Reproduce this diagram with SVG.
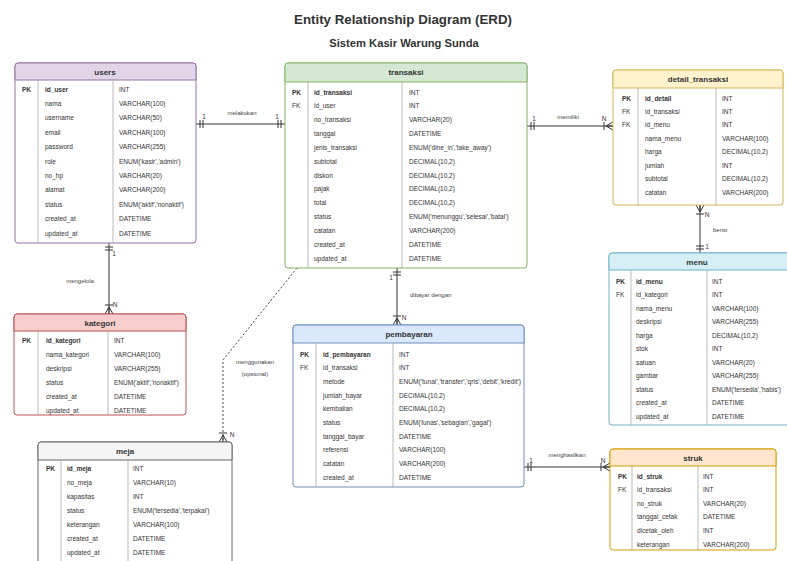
<svg xmlns="http://www.w3.org/2000/svg" width="787" height="561" viewBox="0 0 787 561">
<style>
.t{font-family:"Liberation Sans",Arial,sans-serif;font-size:6.5px;fill:#333;dominant-baseline:central}
.k{font-weight:bold}
.h{font-family:"Liberation Sans",Arial,sans-serif;font-size:8px;font-weight:bold;fill:#333;text-anchor:middle;dominant-baseline:central}
.l{font-family:"Liberation Sans",Arial,sans-serif;font-size:6px;fill:#444;dominant-baseline:central}
.c{font-family:"Liberation Sans",Arial,sans-serif;font-size:6.5px;fill:#333;dominant-baseline:central;text-anchor:middle}
.dv{stroke:#aaa;stroke-width:0.8}
.box{fill:#fff;stroke-width:1}
.conn{stroke:#333;stroke-width:1;fill:none}
.dash{stroke:#444;stroke-width:1;fill:none;stroke-dasharray:2,2}
.ttl{font-family:"Liberation Sans",Arial,sans-serif;font-weight:bold;fill:#333;text-anchor:middle}
</style>
<defs>
<marker id="many" viewBox="-11 -6 12 12" refX="0" refY="0" markerWidth="12" markerHeight="12" markerUnits="userSpaceOnUse" orient="auto-start-reverse">
<path d="M-7,0 L0,-4 M-7,0 L0,0 M-7,0 L0,4 M-9,-4 L-9,4" stroke="#333" fill="none" stroke-width="1"/>
</marker>
<marker id="one" viewBox="-11 -6 12 12" refX="0" refY="0" markerWidth="12" markerHeight="12" markerUnits="userSpaceOnUse" orient="auto-start-reverse">
<path d="M-4,-4 L-4,4 M-7,-4 L-7,4" stroke="#333" fill="none" stroke-width="1"/>
</marker>
</defs>
<rect width="787" height="561" fill="#fff"/>
<text class="ttl" x="403" y="24" font-size="13.3">Entity Relationship Diagram (ERD)</text>
<text class="ttl" x="404" y="47" font-size="11.2">Sistem Kasir Warung Sunda</text>

<g id="connectors">
<line class="conn" x1="196" y1="124" x2="285" y2="124" marker-start="url(#one)" marker-end="url(#one)"/>
<text class="c" x="204" y="116">1</text><text class="c" x="277" y="116">1</text>
<text class="l" x="242" y="113" text-anchor="middle">melakukan</text>
<line class="conn" x1="527" y1="126" x2="613" y2="126" marker-start="url(#one)" marker-end="url(#many)"/>
<text class="c" x="534" y="118">1</text><text class="c" x="604" y="118">N</text>
<text class="l" x="568" y="117" text-anchor="middle">memiliki</text>
<line class="conn" x1="700" y1="205" x2="700" y2="253" marker-start="url(#many)" marker-end="url(#one)"/>
<text class="c" x="707" y="214">N</text><text class="c" x="707" y="246">1</text>
<text class="l" x="713" y="230">berisi</text>
<line class="conn" x1="109" y1="243" x2="109" y2="314" marker-start="url(#one)" marker-end="url(#many)"/>
<text class="c" x="114" y="253">1</text><text class="c" x="115" y="304">N</text>
<text class="l" x="80" y="281" text-anchor="middle">mengelola</text>
<line class="conn" x1="397" y1="268" x2="397" y2="325" marker-start="url(#one)" marker-end="url(#many)"/>
<text class="c" x="391" y="277">1</text><text class="c" x="404" y="317">N</text>
<text class="l" x="410" y="295">dibayar dengan</text>
<path class="dash" d="M297,268 L223,360 L223,442" marker-end="url(#many)"/>
<text class="c" x="232" y="434">N</text>
<text class="l" x="255" y="362" text-anchor="middle">menggunakan</text>
<text class="l" x="255" y="374" text-anchor="middle">(opsional)</text>
<line class="conn" x1="524" y1="467" x2="610" y2="467" marker-start="url(#one)" marker-end="url(#many)"/>
<text class="c" x="531" y="460">1</text><text class="c" x="603" y="460">N</text>
<text class="l" x="567" y="455" text-anchor="middle">menghasilkan</text>
</g>

<g id="users">
<rect class="box" x="15" y="63" width="181" height="180" rx="3" stroke="#9673a6"/>
<path d="M15,80 V66 a3,3 0 0 1 3,-3 H193 a3,3 0 0 1 3,3 V80 Z" fill="#e1d5e7" stroke="#9673a6"/>
<text class="h" x="105" y="72">users</text>
<line class="dv" x1="38" y1="80" x2="38" y2="243"/><line class="dv" x1="113" y1="80" x2="113" y2="243"/>
<text class="t k" x="22" y="89">PK</text>
<text class="t k" x="45" y="89">id_user</text><text class="t" x="119" y="89">INT</text>
<text class="t" x="45" y="103.4">nama</text><text class="t" x="119" y="103.4">VARCHAR(100)</text>
<text class="t" x="45" y="117.8">username</text><text class="t" x="119" y="117.8">VARCHAR(50)</text>
<text class="t" x="45" y="132.2">email</text><text class="t" x="119" y="132.2">VARCHAR(100)</text>
<text class="t" x="45" y="146.6">password</text><text class="t" x="119" y="146.6">VARCHAR(255)</text>
<text class="t" x="45" y="161">role</text><text class="t" x="119" y="161">ENUM('kasir','admin')</text>
<text class="t" x="45" y="175.4">no_hp</text><text class="t" x="119" y="175.4">VARCHAR(20)</text>
<text class="t" x="45" y="189.8">alamat</text><text class="t" x="119" y="189.8">VARCHAR(200)</text>
<text class="t" x="45" y="204.2">status</text><text class="t" x="119" y="204.2">ENUM('aktif','nonaktif')</text>
<text class="t" x="45" y="218.6">created_at</text><text class="t" x="119" y="218.6">DATETIME</text>
<text class="t" x="45" y="233">updated_at</text><text class="t" x="119" y="233">DATETIME</text>
</g>

<g id="transaksi">
<rect class="box" x="285" y="63" width="242" height="205" rx="3" stroke="#82b366"/>
<path d="M285,82 V66 a3,3 0 0 1 3,-3 H524 a3,3 0 0 1 3,3 V82 Z" fill="#d5e8d4" stroke="#82b366"/>
<text class="h" x="406" y="72.5">transaksi</text>
<line class="dv" x1="308" y1="82" x2="308" y2="268"/><line class="dv" x1="402" y1="82" x2="402" y2="268"/>
<text class="t k" x="292" y="92">PK</text><text class="t k" x="314" y="92">id_transaksi</text><text class="t" x="409" y="92">INT</text>
<text class="t" x="292" y="105.8">FK</text><text class="t" x="314" y="105.8">id_user</text><text class="t" x="409" y="105.8">INT</text>
<text class="t" x="314" y="119.7">no_transaksi</text><text class="t" x="409" y="119.7">VARCHAR(20)</text>
<text class="t" x="314" y="133.5">tanggal</text><text class="t" x="409" y="133.5">DATETIME</text>
<text class="t" x="314" y="147.3">jenis_transaksi</text><text class="t" x="409" y="147.3">ENUM('dine_in','take_away')</text>
<text class="t" x="314" y="161.2">subtotal</text><text class="t" x="409" y="161.2">DECIMAL(10,2)</text>
<text class="t" x="314" y="175">diskon</text><text class="t" x="409" y="175">DECIMAL(10,2)</text>
<text class="t" x="314" y="188.8">pajak</text><text class="t" x="409" y="188.8">DECIMAL(10,2)</text>
<text class="t" x="314" y="202.7">total</text><text class="t" x="409" y="202.7">DECIMAL(10,2)</text>
<text class="t" x="314" y="216.5">status</text><text class="t" x="409" y="216.5">ENUM('menunggu','selesai','batal')</text>
<text class="t" x="314" y="230.3">catatan</text><text class="t" x="409" y="230.3">VARCHAR(200)</text>
<text class="t" x="314" y="244.2">created_at</text><text class="t" x="409" y="244.2">DATETIME</text>
<text class="t" x="314" y="258">updated_at</text><text class="t" x="409" y="258">DATETIME</text>
</g>

<g id="detail_transaksi">
<rect class="box" x="613" y="70" width="170" height="135" rx="3" stroke="#d6b656"/>
<path d="M613,88 V73 a3,3 0 0 1 3,-3 H780 a3,3 0 0 1 3,3 V88 Z" fill="#fff2cc" stroke="#d6b656"/>
<text class="h" x="698" y="79">detail_transaksi</text>
<line class="dv" x1="638" y1="88" x2="638" y2="205"/><line class="dv" x1="716" y1="88" x2="716" y2="205"/>
<text class="t k" x="622" y="98">PK</text><text class="t k" x="645" y="98">id_detail</text><text class="t" x="722" y="98">INT</text>
<text class="t" x="622" y="111.4">FK</text><text class="t" x="645" y="111.4">id_transaksi</text><text class="t" x="722" y="111.4">INT</text>
<text class="t" x="622" y="124.9">FK</text><text class="t" x="645" y="124.9">id_menu</text><text class="t" x="722" y="124.9">INT</text>
<text class="t" x="645" y="138.3">nama_menu</text><text class="t" x="722" y="138.3">VARCHAR(100)</text>
<text class="t" x="645" y="151.7">harga</text><text class="t" x="722" y="151.7">DECIMAL(10,2)</text>
<text class="t" x="645" y="165.1">jumlah</text><text class="t" x="722" y="165.1">INT</text>
<text class="t" x="645" y="178.6">subtotal</text><text class="t" x="722" y="178.6">DECIMAL(10,2)</text>
<text class="t" x="645" y="192">catatan</text><text class="t" x="722" y="192">VARCHAR(200)</text>
</g>

<g id="menu">
<rect class="box" x="609" y="253" width="190" height="172" rx="3" stroke="#6fb3c9"/>
<path d="M609,270 V256 a3,3 0 0 1 3,-3 H796 a3,3 0 0 1 3,3 V270 Z" fill="#d6eef5" stroke="#6fb3c9"/>
<text class="h" x="697" y="262">menu</text>
<line class="dv" x1="631" y1="270" x2="631" y2="425"/><line class="dv" x1="707" y1="270" x2="707" y2="425"/>
<text class="t k" x="616" y="281">PK</text><text class="t k" x="636" y="281">id_menu</text><text class="t" x="712" y="281">INT</text>
<text class="t" x="616" y="294.5">FK</text><text class="t" x="636" y="294.5">id_kategori</text><text class="t" x="712" y="294.5">INT</text>
<text class="t" x="636" y="308">nama_menu</text><text class="t" x="712" y="308">VARCHAR(100)</text>
<text class="t" x="636" y="321.5">deskripsi</text><text class="t" x="712" y="321.5">VARCHAR(255)</text>
<text class="t" x="636" y="335">harga</text><text class="t" x="712" y="335">DECIMAL(10,2)</text>
<text class="t" x="636" y="348.5">stok</text><text class="t" x="712" y="348.5">INT</text>
<text class="t" x="636" y="362">satuan</text><text class="t" x="712" y="362">VARCHAR(20)</text>
<text class="t" x="636" y="375.5">gambar</text><text class="t" x="712" y="375.5">VARCHAR(255)</text>
<text class="t" x="636" y="389">status</text><text class="t" x="712" y="389">ENUM('tersedia','habis')</text>
<text class="t" x="636" y="402.5">created_at</text><text class="t" x="712" y="402.5">DATETIME</text>
<text class="t" x="636" y="416">updated_at</text><text class="t" x="712" y="416">DATETIME</text>
</g>

<g id="kategori">
<rect class="box" x="14" y="314" width="172" height="101" rx="3" stroke="#b85450"/>
<path d="M14,331 V317 a3,3 0 0 1 3,-3 H183 a3,3 0 0 1 3,3 V331 Z" fill="#f8cecc" stroke="#b85450"/>
<text class="h" x="100" y="323">kategori</text>
<line class="dv" x1="38" y1="331" x2="38" y2="415"/><line class="dv" x1="108" y1="331" x2="108" y2="415"/>
<text class="t k" x="22" y="340">PK</text><text class="t k" x="46" y="340">id_kategori</text><text class="t" x="114" y="340">INT</text>
<text class="t" x="46" y="354">nama_kategori</text><text class="t" x="114" y="354">VARCHAR(100)</text>
<text class="t" x="46" y="368">deskripsi</text><text class="t" x="114" y="368">VARCHAR(255)</text>
<text class="t" x="46" y="382">status</text><text class="t" x="114" y="382">ENUM('aktif','nonaktif')</text>
<text class="t" x="46" y="396">created_at</text><text class="t" x="114" y="396">DATETIME</text>
<text class="t" x="46" y="410">updated_at</text><text class="t" x="114" y="410">DATETIME</text>
</g>

<g id="pembayaran">
<rect class="box" x="293" y="325" width="231" height="162" rx="3" stroke="#6c8ebf"/>
<path d="M293,343 V328 a3,3 0 0 1 3,-3 H521 a3,3 0 0 1 3,3 V343 Z" fill="#dae8fc" stroke="#6c8ebf"/>
<text class="h" x="409" y="334">pembayaran</text>
<line class="dv" x1="316" y1="343" x2="316" y2="487"/><line class="dv" x1="393" y1="343" x2="393" y2="487"/>
<text class="t k" x="300" y="354">PK</text><text class="t k" x="323" y="354">id_pembayaran</text><text class="t" x="399" y="354">INT</text>
<text class="t" x="300" y="367.7">FK</text><text class="t" x="323" y="367.7">id_transaksi</text><text class="t" x="399" y="367.7">INT</text>
<text class="t" x="323" y="381.3">metode</text><text class="t" x="399" y="381.3" textLength="122" lengthAdjust="spacingAndGlyphs">ENUM('tunai','transfer','qris','debit','kredit')</text>
<text class="t" x="323" y="395">jumlah_bayar</text><text class="t" x="399" y="395">DECIMAL(10,2)</text>
<text class="t" x="323" y="408.7">kembalian</text><text class="t" x="399" y="408.7">DECIMAL(10,2)</text>
<text class="t" x="323" y="422.3">status</text><text class="t" x="399" y="422.3">ENUM('lunas','sebagian','gagal')</text>
<text class="t" x="323" y="436">tanggal_bayar</text><text class="t" x="399" y="436">DATETIME</text>
<text class="t" x="323" y="449.7">referensi</text><text class="t" x="399" y="449.7">VARCHAR(100)</text>
<text class="t" x="323" y="463.3">catatan</text><text class="t" x="399" y="463.3">VARCHAR(200)</text>
<text class="t" x="323" y="477">created_at</text><text class="t" x="399" y="477">DATETIME</text>
</g>

<g id="meja">
<rect class="box" x="38" y="442" width="194" height="125" rx="3" stroke="#666"/>
<path d="M38,460 V445 a3,3 0 0 1 3,-3 H229 a3,3 0 0 1 3,3 V460 Z" fill="#f5f5f5" stroke="#666"/>
<text class="h" x="125" y="451">meja</text>
<line class="dv" x1="61" y1="460" x2="61" y2="567"/><line class="dv" x1="128" y1="460" x2="128" y2="567"/>
<text class="t k" x="46" y="468">PK</text><text class="t k" x="67" y="468">id_meja</text><text class="t" x="133" y="468">INT</text>
<text class="t" x="67" y="482">no_meja</text><text class="t" x="133" y="482">VARCHAR(10)</text>
<text class="t" x="67" y="496">kapasitas</text><text class="t" x="133" y="496">INT</text>
<text class="t" x="67" y="510">status</text><text class="t" x="133" y="510">ENUM('tersedia','terpakai')</text>
<text class="t" x="67" y="524">keterangan</text><text class="t" x="133" y="524">VARCHAR(100)</text>
<text class="t" x="67" y="538">created_at</text><text class="t" x="133" y="538">DATETIME</text>
<text class="t" x="67" y="552">updated_at</text><text class="t" x="133" y="552">DATETIME</text>
</g>

<g id="struk">
<rect class="box" x="610" y="449" width="166" height="101" rx="3" stroke="#d79b00"/>
<path d="M610,466 V452 a3,3 0 0 1 3,-3 H773 a3,3 0 0 1 3,3 V466 Z" fill="#ffe6cc" stroke="#d79b00"/>
<text class="h" x="693" y="458">struk</text>
<line class="dv" x1="632" y1="466" x2="632" y2="550"/><line class="dv" x1="698" y1="466" x2="698" y2="550"/>
<text class="t k" x="618" y="476">PK</text><text class="t k" x="637" y="476">id_struk</text><text class="t" x="703" y="476">INT</text>
<text class="t" x="618" y="489.6">FK</text><text class="t" x="637" y="489.6">id_transaksi</text><text class="t" x="703" y="489.6">INT</text>
<text class="t" x="637" y="503.2">no_struk</text><text class="t" x="703" y="503.2">VARCHAR(20)</text>
<text class="t" x="637" y="516.8">tanggal_cetak</text><text class="t" x="703" y="516.8">DATETIME</text>
<text class="t" x="637" y="530.4">dicetak_oleh</text><text class="t" x="703" y="530.4">INT</text>
<text class="t" x="637" y="544">keterangan</text><text class="t" x="703" y="544">VARCHAR(200)</text>
</g>
</svg>
